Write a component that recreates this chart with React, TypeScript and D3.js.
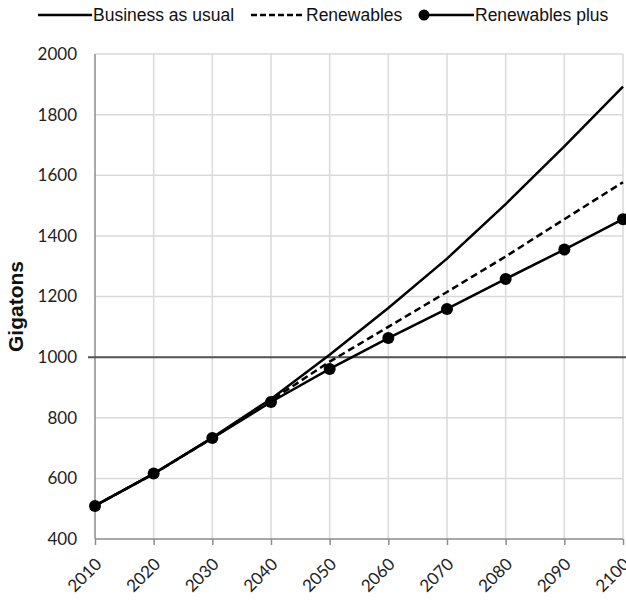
import * as React from 'react';
import * as d3 from 'd3';

const years = [2010, 2020, 2030, 2040, 2050, 2060, 2070, 2080, 2090, 2100];
const businessAsUsual = [510, 615, 735, 862, 1008, 1162, 1325, 1505, 1695, 1892];
const renewables = [510, 615, 733, 857, 985, 1100, 1215, 1332, 1455, 1577];
const renewablesPlus = [509, 616, 733, 852, 961, 1063, 1159, 1258, 1355, 1455];
const yTicks = [400, 600, 800, 1000, 1200, 1400, 1600, 1800, 2000];
const threshold = 1000;

const W = 626;
const H = 602;
const margin = { top: 54, right: 3, bottom: 63, left: 95 };

export default function App() {
  const ref = React.useRef<SVGSVGElement>(null);

  React.useEffect(() => {
    const svg = d3.select(ref.current);
    svg.selectAll('*').remove();
    const width = W - margin.left - margin.right;
    const height = H - margin.top - margin.bottom;

    const x = d3.scaleLinear().domain([2010, 2100]).range([0, width]);
    const y = d3.scaleLinear().domain([400, 2000]).range([height, 0]);

    const g = svg.append('g').attr('transform', `translate(${margin.left},${margin.top})`);

    // grid
    g.selectAll('.vgrid').data(years.slice(1)).enter().append('line')
      .attr('x1', (d) => x(d)).attr('x2', (d) => x(d))
      .attr('y1', 0).attr('y2', height)
      .attr('stroke', '#d9d9d9').attr('stroke-width', 1.5);
    g.selectAll('.hgrid').data(yTicks.slice(1)).enter().append('line')
      .attr('x1', 0).attr('x2', width)
      .attr('y1', (d) => y(d)).attr('y2', (d) => y(d))
      .attr('stroke', '#d9d9d9').attr('stroke-width', 1.5);

    // axes
    const xAxis = d3.axisBottom(x).tickValues(years).tickSize(6).tickFormat(() => '');
    const xg = g.append('g').attr('transform', `translate(0,${height})`).call(xAxis);
    xg.selectAll('path,line').attr('stroke', '#8c8c8c').attr('stroke-width', 1.5);
    xg.select('.domain').attr('d', `M0,0H${width}`);
    xg.selectAll('.tick').append('text')
      .attr('transform', 'translate(3,22) rotate(-45)')
      .attr('text-anchor', 'end')
      .attr('dy', '0.35em')
      .attr('fill', '#222')
      .attr('font-family', 'Lato, sans-serif')
      .attr('font-size', '17px')
      .text((d: any) => String(d));

    const yAxis = d3.axisLeft(y).tickValues(yTicks).tickSize(0).tickPadding(18)
      .tickFormat(d3.format('d'));
    const yg = g.append('g').call(yAxis);
    yg.select('.domain').attr('d', `M0,0V${height}`).attr('stroke', '#8c8c8c').attr('stroke-width', 1.5);
    yg.selectAll('text')
      .attr('fill', '#222')
      .attr('font-family', 'Lato, sans-serif')
      .attr('font-size', '17px');

    // threshold line
    g.append('line')
      .attr('x1', -7).attr('x2', W - margin.left)
      .attr('y1', y(threshold)).attr('y2', y(threshold))
      .attr('stroke', '#555').attr('stroke-width', 2);

    g.append('text')
      .attr('transform', `translate(${23 - margin.left},${height / 2 + 10}) rotate(-90)`)
      .attr('text-anchor', 'middle')
      .attr('font-family', 'Liberation Sans, Arial, sans-serif')
      .attr('font-weight', 'bold')
      .attr('font-size', '21px')
      .attr('fill', '#111')
      .text('Gigatons');

    const line = d3.line<number>().x((_, i) => x(years[i])).y((d) => y(d));

    g.append('path').datum(businessAsUsual).attr('d', line)
      .attr('fill', 'none').attr('stroke', '#000').attr('stroke-width', 2.5);
    g.append('path').datum(renewables).attr('d', line)
      .attr('fill', 'none').attr('stroke', '#000').attr('stroke-width', 2.5)
      .attr('stroke-dasharray', '7,4');
    g.append('path').datum(renewablesPlus).attr('d', line)
      .attr('fill', 'none').attr('stroke', '#000').attr('stroke-width', 2.5);
    g.selectAll('.dot').data(renewablesPlus).enter().append('circle')
      .attr('cx', (_, i) => x(years[i])).attr('cy', (d) => y(d))
      .attr('r', 6).attr('fill', '#000');

    // legend
    const legend = svg.append('g').attr('font-family', 'Liberation Sans, Arial, sans-serif')
      .attr('font-size', '17.5px').attr('fill', '#111');
    const items = [
      { name: 'Business as usual', x0: 38, dash: null, dot: false },
      { name: 'Renewables', x0: 251, dash: '6,3', dot: false },
      { name: 'Renewables plus', x0: 420, dash: null, dot: true },
    ];
    items.forEach((it) => {
      const l = legend.append('line')
        .attr('x1', it.x0).attr('x2', it.x0 + 54)
        .attr('y1', 15).attr('y2', 15)
        .attr('stroke', '#000').attr('stroke-width', 2.5);
      if (it.dash) l.attr('stroke-dasharray', it.dash);
      if (it.dot) legend.append('circle').attr('cx', it.x0 + 4).attr('cy', 15).attr('r', 5.5).attr('fill', '#000');
      legend.append('text').attr('x', it.x0 + 55).attr('y', 21).text(it.name);
    });
  }, []);

  return (
    <svg ref={ref} width={W} height={H}
      style={{ position: 'absolute', left: 0, top: 0, background: '#fff' }} />
  );
}
